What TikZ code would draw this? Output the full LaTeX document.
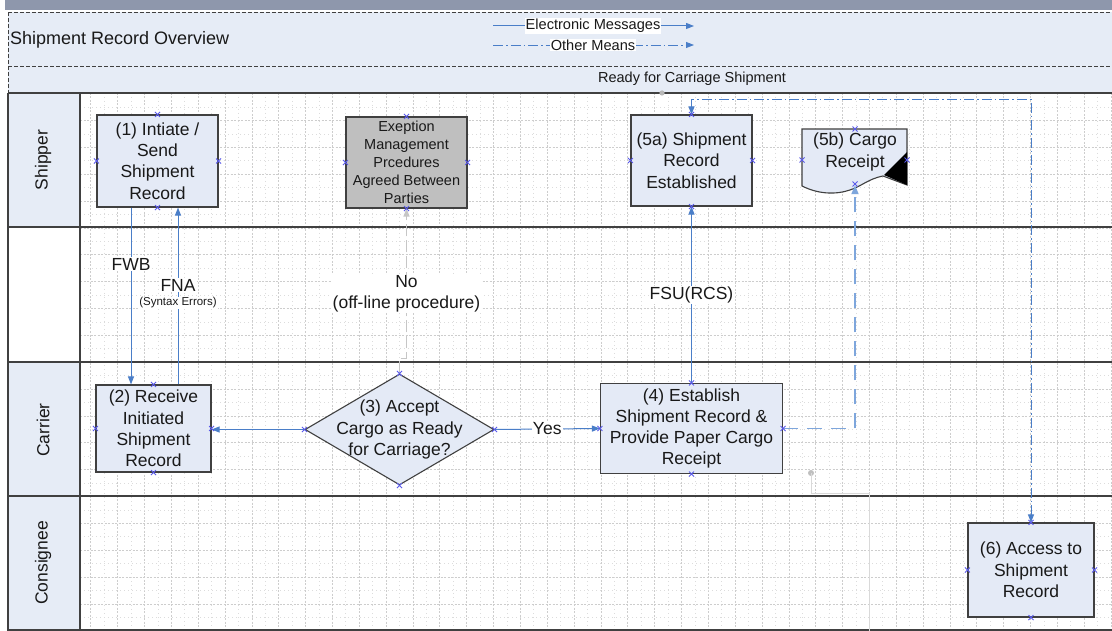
\documentclass[tikz,border=0pt]{standalone}
\usepackage{fontspec}
\setmainfont{Liberation Sans}
\usetikzlibrary{arrows.meta,shapes.geometric}
\definecolor{boxfill}{RGB}{228,234,246}
\definecolor{hdrfill}{RGB}{230,236,246}
\definecolor{topbar}{RGB}{142,151,172}
\definecolor{boxline}{RGB}{64,64,64}
\definecolor{exefill}{RGB}{191,191,191}
\definecolor{msgblue}{RGB}{74,126,200}
\definecolor{lightdash}{RGB}{126,166,220}
\definecolor{cpcol}{RGB}{90,90,235}
\definecolor{txt}{RGB}{25,25,25}
\definecolor{gridc}{RGB}{205,205,205}
\newcommand\fbig{\fontsize{17.5}{21.3}\selectfont}
\newcommand\fmid{\fontsize{14.5}{18}\selectfont}
\newcommand\fleg{\fontsize{14.6}{16}\selectfont}
\newcommand\fsmall{\fontsize{11.5}{13}\selectfont}
\begin{document}
\begin{tikzpicture}[x=1pt,y=-1pt,
  box/.style={draw=boxline, fill=boxfill, line width=1.1pt, inner sep=0pt, align=center, font=\fbig, text=txt},
  exebox/.style={box, fill=exefill, font=\fmid},
  lbl/.style={fill=white, inner sep=1pt, font=\fbig, text=txt, align=center},
  lanename/.style={rotate=90, font=\fbig, text=txt},
  msg/.style={draw=msgblue, line width=1pt, -{Triangle[length=8pt,width=6pt]}},
  paper/.style={draw=lightdash, line width=1.8pt, dash pattern=on 15pt off 9pt, -{Triangle[length=9pt,width=7pt]}},
  other/.style={draw=msgblue, line width=0.9pt, dash pattern=on 10pt off 3pt on 1.5pt off 3pt},
  offline/.style={draw=gray!45, line width=1.2pt, dash pattern=on 12pt off 4pt, -{Triangle[length=8pt,width=6pt,fill=gray!45]}},
  gmaj/.style={draw=gridc, line width=0.6pt, dash pattern=on 2pt off 1.5pt},
  gmin/.style={draw=gridc!70, line width=0.6pt, dash pattern=on 1pt off 3pt},
  lane/.style={draw=boxline, line width=1.2pt},
  tdash/.style={draw=boxline, line width=1pt, dash pattern=on 4pt off 2pt},
  cpx/.pic={\draw[cpcol, line width=0.8pt] (-2.5,-2.5) -- (2.5,2.5) (-2.5,2.5) -- (2.5,-2.5);}
]
\useasboundingbox (0,0) rectangle (1112,631);
\fill[white] (0,0) rectangle (1112,631);
% header bands
\fill[topbar] (5,0) rectangle (1112,10);
\fill[hdrfill] (8,12) rectangle (1112,93);
\fill[hdrfill] (8,93) rectangle (80,227);
\fill[hdrfill] (8,362) rectangle (80,631);
% grid
\foreach \i in {0,...,38} \draw[gmaj] ({90.7+26.85*\i},93) -- ({90.7+26.85*\i},631);
\foreach \i in {0,...,37} \draw[gmin] ({104.1+26.85*\i},93) -- ({104.1+26.85*\i},631);
\foreach \j in {0,...,20} \draw[gmaj] (80,{93.7+26.85*\j}) -- (1112,{93.7+26.85*\j});
\foreach \j in {0,...,19} \draw[gmin] (80,{107.1+26.85*\j}) -- (1112,{107.1+26.85*\j});
% lane lines
\draw[lane] (8,93) -- (1112,93);
\draw[lane] (8,227) -- (1112,227);
\draw[lane] (8,362) -- (1112,362);
\draw[lane] (8,496) -- (1112,496);
\draw[lane] (8,630) -- (1112,630);
\draw[lane] (8,93) -- (8,631);
\draw[lane] (80,93) -- (80,631);
\draw[tdash] (8,12.5) -- (1112,12.5);
\draw[tdash] (8,67) -- (1112,67);
\draw[tdash] (8,12.5) -- (8,93);
% titles
\node[anchor=west, font=\fontsize{18}{20}\selectfont, text=txt, inner sep=0pt] (title) at (10,40) {Shipment Record Overview};
\node[font=\fmid, text=txt] (ready) at (692,79) {Ready for Carriage Shipment};
\fill[gray!55] (662,93) circle (2.6);
% legend
\coordinate (le1) at (493,26);
\coordinate (le2) at (694,26);
\coordinate (lo1) at (493,45);
\coordinate (lo2) at (694,45);
\draw[msg] (le1) -- (le2);
\node[fill=white, inner sep=1pt, font=\fleg, text=txt] (legE) at (593,26) {Electronic Messages};
\draw[other, -{Triangle[length=8pt,width=6pt]}] (lo1) -- (lo2);
\node[fill=white, inner sep=1pt, font=\fleg, text=txt] (legO) at (593,45) {Other Means};
% lane names
\node[lanename] (lshipper) at (43,160) {Shipper};
\node[lanename] (lcarrier) at (43,430) {Carrier};
\node[lanename] (lconsignee) at (43,563) {Consignee};
% nodes
\node[box, minimum width=121pt, minimum height=92pt] (s1) at (157.5,161) {(1) Intiate /\\Send\\Shipment\\Record};
\node[exebox, minimum width=121pt, minimum height=91pt] (exe) at (406.5,162.5) {Exeption\\Management\\Prcedures\\Agreed Between\\Parties};
\node[box, minimum width=121pt, minimum height=91pt] (s5a) at (691.5,160.5) {(5a) Shipment\\Record\\Established};
\node[box, minimum width=115pt, minimum height=87pt] (s2) at (153.5,428.5) {(2) Receive\\Initiated\\Shipment\\Record};
\node[draw=boxline, fill=boxfill, line width=1.1pt, diamond, minimum width=189pt, minimum height=111pt, inner sep=0pt] (dia) at (399.5,429.5) {};
\node[font=\fbig, text=txt, align=center, inner sep=0pt] (diat) at (399.5,429.5) {(3) Accept\\Cargo as Ready\\for Carriage?};
\node[box, minimum width=182pt, minimum height=90pt] (s4) at (691.5,428.5) {(4) Establish\\Shipment Record \&\\Provide Paper Cargo\\Receipt};
\node[box, minimum width=126pt, minimum height=94pt] (s6) at (1031,570) {(6) Access to\\Shipment\\Record};
% (5b) document shape
\filldraw[draw=boxline, fill=boxfill, line width=1.1pt] (802,129) -- (907,129) -- (907,185) -- (883,176)
  .. controls (868,179) and (862,186) .. (850,190)
  .. controls (835,195) and (818,194) .. (802,186) -- cycle;
\fill[black] (907,152) -- (884,175) -- (907,185) -- cycle;
\node[minimum width=105pt, minimum height=56pt, inner sep=0pt] (s5b) at (855,157) {};
\node[font=\fbig, text=txt, align=center, inner sep=0pt] (s5bt) at (855,152) {(5b) Cargo\\Receipt};
% connectors
\draw[msg] ([xshift=-26.5pt]s1.south) -- node[lbl, pos=0.32] (fwb) {FWB} ([xshift=-22.5pt]s2.north);
\draw[msg] ([xshift=24.5pt]s2.north) -- ([xshift=20.5pt]s1.south);
\node[lbl] (fna) at (178,285) {FNA};
\node[lbl, font=\fsmall] (fnas) at (178,303) {(Syntax Errors)};
\draw[msg] (dia.west) -- (dia.west -| s2.east);
\draw[msg] (dia.east) -- node[lbl, pos=0.5] (yes) {Yes} (s4.west);
\draw[msg] (s4.north) -- node[lbl, pos=0.5] (fsu) {FSU(RCS)} (s5a.south);
\draw[paper] (s4.east) -| (s5b.south);
\draw[other, {Triangle[length=8pt,width=6pt]}-{Triangle[length=8pt,width=6pt]}] (s5a.north) -- ++(0,-15) -| (s6.north);
\draw[offline] (dia.north) -- ++(0,-15) -| (exe.south);
\node[lbl] (no) at (406.5,294) {No\\(off-line procedure)};
% gray stub connector
\fill[gray!50] (811,473) circle (3);
\coordinate (g1) at (811,473);
\coordinate (g2) at (869,493);
\coordinate (g3) at (869,631);
\draw[gray!30, line width=1pt] (g1) |- (g2) -- (g3);
% connection points
\foreach \n in {s1,exe,s5a,s2,s4,s6,dia}
  \foreach \a in {north,south,east,west}
    \pic at (\n.\a) {cpx};
\pic at (855,129) {cpx};
\pic at (855,184) {cpx};
\pic at (802,160) {cpx};
\pic at (907,160) {cpx};
\end{tikzpicture}
\end{document}
